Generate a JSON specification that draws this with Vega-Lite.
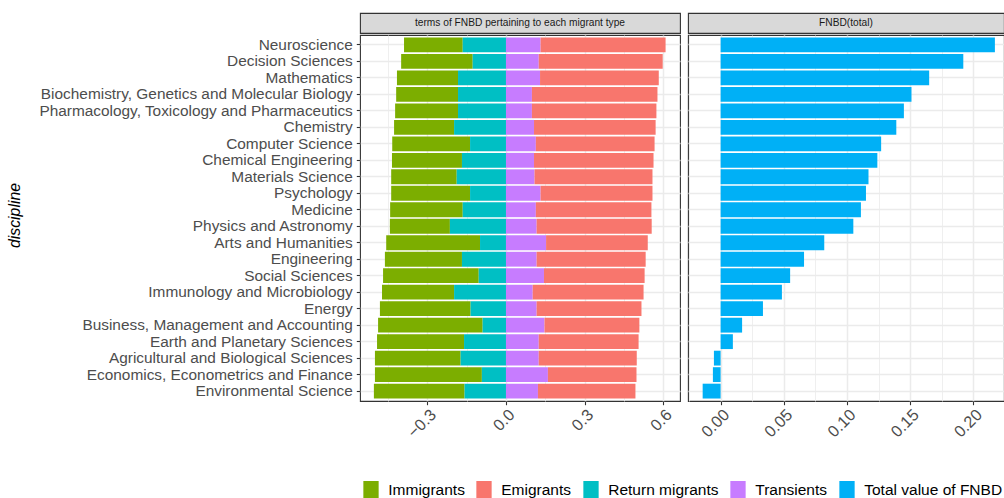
{
  "$schema": "https://vega.github.io/schema/vega-lite/v6.json",
  "padding": {"left": 5, "top": 12, "right": 0, "bottom": 0},
  "autosize": {"type": "pad"},
  "config": {
    "font": "Liberation Sans",
    "view": {"stroke": null},
    "axis": {
      "labelFontSize": 15.4,
      "labelColor": "#4D4D4D",
      "tickColor": "#333333",
      "tickSize": 3.7,
      "tickWidth": 1.1,
      "domain": false,
      "gridColor": "#EBEBEB",
      "gridWidth": 1.5,
      "labelOverlap": false
    },
    "legend": {
      "orient": "none",
      "legendX": 2,
      "legendY": 468,
      "direction": "horizontal",
      "labelFontSize": 15.5,
      "labelColor": "#000000",
      "labelOffset": 8.25,
      "columnPadding": 10,
      "padding": 0,
      "labelLimit": 400
    }
  },
  "datasets": {
    "fnbd": [
      {"discipline": "Neuroscience", "type": "Immigrants", "value": -0.224},
      {"discipline": "Neuroscience", "type": "Return migrants", "value": -0.165},
      {"discipline": "Neuroscience", "type": "Transients", "value": 0.132},
      {"discipline": "Neuroscience", "type": "Emigrants", "value": 0.477},
      {"discipline": "Neuroscience", "type": "Total value of FNBD", "value": 0.217},
      {"discipline": "Decision Sciences", "type": "Immigrants", "value": -0.273},
      {"discipline": "Decision Sciences", "type": "Return migrants", "value": -0.127},
      {"discipline": "Decision Sciences", "type": "Transients", "value": 0.125},
      {"discipline": "Decision Sciences", "type": "Emigrants", "value": 0.473},
      {"discipline": "Decision Sciences", "type": "Total value of FNBD", "value": 0.192},
      {"discipline": "Mathematics", "type": "Immigrants", "value": -0.233},
      {"discipline": "Mathematics", "type": "Return migrants", "value": -0.183},
      {"discipline": "Mathematics", "type": "Transients", "value": 0.130},
      {"discipline": "Mathematics", "type": "Emigrants", "value": 0.453},
      {"discipline": "Mathematics", "type": "Total value of FNBD", "value": 0.165},
      {"discipline": "Biochemistry, Genetics and Molecular Biology", "type": "Immigrants", "value": -0.236},
      {"discipline": "Biochemistry, Genetics and Molecular Biology", "type": "Return migrants", "value": -0.183},
      {"discipline": "Biochemistry, Genetics and Molecular Biology", "type": "Transients", "value": 0.099},
      {"discipline": "Biochemistry, Genetics and Molecular Biology", "type": "Emigrants", "value": 0.479},
      {"discipline": "Biochemistry, Genetics and Molecular Biology", "type": "Total value of FNBD", "value": 0.151},
      {"discipline": "Pharmacology, Toxicology and Pharmaceutics", "type": "Immigrants", "value": -0.240},
      {"discipline": "Pharmacology, Toxicology and Pharmaceutics", "type": "Return migrants", "value": -0.183},
      {"discipline": "Pharmacology, Toxicology and Pharmaceutics", "type": "Transients", "value": 0.099},
      {"discipline": "Pharmacology, Toxicology and Pharmaceutics", "type": "Emigrants", "value": 0.475},
      {"discipline": "Pharmacology, Toxicology and Pharmaceutics", "type": "Total value of FNBD", "value": 0.145},
      {"discipline": "Chemistry", "type": "Immigrants", "value": -0.229},
      {"discipline": "Chemistry", "type": "Return migrants", "value": -0.198},
      {"discipline": "Chemistry", "type": "Transients", "value": 0.107},
      {"discipline": "Chemistry", "type": "Emigrants", "value": 0.464},
      {"discipline": "Chemistry", "type": "Total value of FNBD", "value": 0.139},
      {"discipline": "Computer Science", "type": "Immigrants", "value": -0.297},
      {"discipline": "Computer Science", "type": "Return migrants", "value": -0.137},
      {"discipline": "Computer Science", "type": "Transients", "value": 0.114},
      {"discipline": "Computer Science", "type": "Emigrants", "value": 0.453},
      {"discipline": "Computer Science", "type": "Total value of FNBD", "value": 0.127},
      {"discipline": "Chemical Engineering", "type": "Immigrants", "value": -0.267},
      {"discipline": "Chemical Engineering", "type": "Return migrants", "value": -0.168},
      {"discipline": "Chemical Engineering", "type": "Transients", "value": 0.107},
      {"discipline": "Chemical Engineering", "type": "Emigrants", "value": 0.456},
      {"discipline": "Chemical Engineering", "type": "Total value of FNBD", "value": 0.124},
      {"discipline": "Materials Science", "type": "Immigrants", "value": -0.250},
      {"discipline": "Materials Science", "type": "Return migrants", "value": -0.188},
      {"discipline": "Materials Science", "type": "Transients", "value": 0.109},
      {"discipline": "Materials Science", "type": "Emigrants", "value": 0.450},
      {"discipline": "Materials Science", "type": "Total value of FNBD", "value": 0.117},
      {"discipline": "Psychology", "type": "Immigrants", "value": -0.301},
      {"discipline": "Psychology", "type": "Return migrants", "value": -0.137},
      {"discipline": "Psychology", "type": "Transients", "value": 0.132},
      {"discipline": "Psychology", "type": "Emigrants", "value": 0.427},
      {"discipline": "Psychology", "type": "Total value of FNBD", "value": 0.115},
      {"discipline": "Medicine", "type": "Immigrants", "value": -0.277},
      {"discipline": "Medicine", "type": "Return migrants", "value": -0.165},
      {"discipline": "Medicine", "type": "Transients", "value": 0.114},
      {"discipline": "Medicine", "type": "Emigrants", "value": 0.441},
      {"discipline": "Medicine", "type": "Total value of FNBD", "value": 0.111},
      {"discipline": "Physics and Astronomy", "type": "Immigrants", "value": -0.229},
      {"discipline": "Physics and Astronomy", "type": "Return migrants", "value": -0.214},
      {"discipline": "Physics and Astronomy", "type": "Transients", "value": 0.117},
      {"discipline": "Physics and Astronomy", "type": "Emigrants", "value": 0.439},
      {"discipline": "Physics and Astronomy", "type": "Total value of FNBD", "value": 0.105},
      {"discipline": "Arts and Humanities", "type": "Immigrants", "value": -0.358},
      {"discipline": "Arts and Humanities", "type": "Return migrants", "value": -0.099},
      {"discipline": "Arts and Humanities", "type": "Transients", "value": 0.153},
      {"discipline": "Arts and Humanities", "type": "Emigrants", "value": 0.388},
      {"discipline": "Arts and Humanities", "type": "Total value of FNBD", "value": 0.082},
      {"discipline": "Engineering", "type": "Immigrants", "value": -0.294},
      {"discipline": "Engineering", "type": "Return migrants", "value": -0.168},
      {"discipline": "Engineering", "type": "Transients", "value": 0.117},
      {"discipline": "Engineering", "type": "Emigrants", "value": 0.416},
      {"discipline": "Engineering", "type": "Total value of FNBD", "value": 0.066},
      {"discipline": "Social Sciences", "type": "Immigrants", "value": -0.365},
      {"discipline": "Social Sciences", "type": "Return migrants", "value": -0.104},
      {"discipline": "Social Sciences", "type": "Transients", "value": 0.145},
      {"discipline": "Social Sciences", "type": "Emigrants", "value": 0.384},
      {"discipline": "Social Sciences", "type": "Total value of FNBD", "value": 0.055},
      {"discipline": "Immunology and Microbiology", "type": "Immigrants", "value": -0.275},
      {"discipline": "Immunology and Microbiology", "type": "Return migrants", "value": -0.198},
      {"discipline": "Immunology and Microbiology", "type": "Transients", "value": 0.102},
      {"discipline": "Immunology and Microbiology", "type": "Emigrants", "value": 0.423},
      {"discipline": "Immunology and Microbiology", "type": "Total value of FNBD", "value": 0.0485},
      {"discipline": "Energy", "type": "Immigrants", "value": -0.346},
      {"discipline": "Energy", "type": "Return migrants", "value": -0.135},
      {"discipline": "Energy", "type": "Transients", "value": 0.117},
      {"discipline": "Energy", "type": "Emigrants", "value": 0.400},
      {"discipline": "Energy", "type": "Total value of FNBD", "value": 0.0335},
      {"discipline": "Business, Management and Accounting", "type": "Immigrants", "value": -0.399},
      {"discipline": "Business, Management and Accounting", "type": "Return migrants", "value": -0.089},
      {"discipline": "Business, Management and Accounting", "type": "Transients", "value": 0.147},
      {"discipline": "Business, Management and Accounting", "type": "Emigrants", "value": 0.362},
      {"discipline": "Business, Management and Accounting", "type": "Total value of FNBD", "value": 0.017},
      {"discipline": "Earth and Planetary Sciences", "type": "Immigrants", "value": -0.332},
      {"discipline": "Earth and Planetary Sciences", "type": "Return migrants", "value": -0.160},
      {"discipline": "Earth and Planetary Sciences", "type": "Transients", "value": 0.125},
      {"discipline": "Earth and Planetary Sciences", "type": "Emigrants", "value": 0.381},
      {"discipline": "Earth and Planetary Sciences", "type": "Total value of FNBD", "value": 0.0097},
      {"discipline": "Agricultural and Biological Sciences", "type": "Immigrants", "value": -0.327},
      {"discipline": "Agricultural and Biological Sciences", "type": "Return migrants", "value": -0.173},
      {"discipline": "Agricultural and Biological Sciences", "type": "Transients", "value": 0.125},
      {"discipline": "Agricultural and Biological Sciences", "type": "Emigrants", "value": 0.374},
      {"discipline": "Agricultural and Biological Sciences", "type": "Total value of FNBD", "value": -0.0053},
      {"discipline": "Economics, Econometrics and Finance", "type": "Immigrants", "value": -0.408},
      {"discipline": "Economics, Econometrics and Finance", "type": "Return migrants", "value": -0.092},
      {"discipline": "Economics, Econometrics and Finance", "type": "Transients", "value": 0.160},
      {"discipline": "Economics, Econometrics and Finance", "type": "Emigrants", "value": 0.338},
      {"discipline": "Economics, Econometrics and Finance", "type": "Total value of FNBD", "value": -0.0061},
      {"discipline": "Environmental Science", "type": "Immigrants", "value": -0.346},
      {"discipline": "Environmental Science", "type": "Return migrants", "value": -0.158},
      {"discipline": "Environmental Science", "type": "Transients", "value": 0.122},
      {"discipline": "Environmental Science", "type": "Emigrants", "value": 0.372},
      {"discipline": "Environmental Science", "type": "Total value of FNBD", "value": -0.0142}
    ]
  },
  "spacing": 6,
  "hconcat": [
    {
      "spacing": 0,
      "vconcat": [
        {
          "width": 320,
          "height": 20,
          "view": {"fill": "#D9D9D9", "stroke": "#333333", "strokeWidth": 1.1},
          "data": {"values": [{"label": "terms of FNBD pertaining to each migrant type"}]},
          "mark": {"type": "text", "fontSize": 10.2, "color": "#1A1A1A"},
          "encoding": {"text": {"field": "label", "type": "nominal"}}
        },
        {
          "width": 320,
          "height": 366,
          "view": {"stroke": "#333333", "strokeWidth": 1.1},
          "data": {"name": "fnbd"},
          "transform": [{"filter": "datum.type !== 'Total value of FNBD'"}],
          "resolve": {"axis": {"x": "independent"}},
          "encoding": {
            "y": {
              "field": "discipline",
              "type": "nominal",
              "sort": ["Neuroscience", "Decision Sciences", "Mathematics", "Biochemistry, Genetics and Molecular Biology", "Pharmacology, Toxicology and Pharmaceutics", "Chemistry", "Computer Science", "Chemical Engineering", "Materials Science", "Psychology", "Medicine", "Physics and Astronomy", "Arts and Humanities", "Engineering", "Social Sciences", "Immunology and Microbiology", "Energy", "Business, Management and Accounting", "Earth and Planetary Sciences", "Agricultural and Biological Sciences", "Economics, Econometrics and Finance", "Environmental Science"],
              "scale": {"paddingInner": 0.1, "paddingOuter": 0.15},
              "axis": {
                "title": "discipline",
                "titleFontStyle": "italic",
                "titleFontWeight": "normal",
                "titleFontSize": 15.8,
                "titleColor": "#000000",
                "titleX": -341,
                "titleY": 180,
                "titleAngle": -90,
                "titleAlign": "center",
                "titleBaseline": "alphabetic",
                "labelPadding": 4,
                "labelLimit": 500,
                "grid": true,
                "bandPosition": 0.5
              }
            }
          },
          "layer": [
            {
              "mark": {"type": "point", "opacity": 0},
              "encoding": {
                "x": {
                  "field": "value",
                  "type": "quantitative",
                  "scale": {"domain": [-0.557, 0.664], "nice": false, "zero": false},
                  "axis": {"orient": "top", "values": [-0.45, -0.15, 0.15, 0.45], "grid": true, "gridWidth": 0.8, "labels": false, "ticks": false, "domain": false, "title": null}
                }
              }
            },
            {
              "mark": {"type": "bar"},
              "encoding": {
                "x": {
                  "field": "value",
                  "type": "quantitative",
                  "axis": {"orient": "bottom", "values": [-0.3, 0, 0.3, 0.6], "format": ".1f", "grid": true, "title": null, "labelFontSize": 16.3, "labelAngle": -45, "labelAlign": "right", "labelBaseline": "top", "labelPadding": 1.5}
                },
                "color": {
                  "field": "type",
                  "type": "nominal",
                  "scale": {"domain": ["Immigrants", "Emigrants", "Return migrants", "Transients", "Total value of FNBD"], "range": ["#7CAE00", "#F8766D", "#00BFC4", "#C77CFF", "#00B0F6"]},
                  "legend": {"title": null, "symbolType": "M-0.85,-1H0.85V1H-0.85Z", "symbolSize": 324, "symbolStrokeWidth": 0}
                },
                "order": {"field": "type", "sort": "descending"}
              }
            }
          ]
        }
      ]
    },
    {
      "spacing": 0,
      "vconcat": [
        {
          "width": 316,
          "height": 20,
          "view": {"fill": "#D9D9D9", "stroke": "#333333", "strokeWidth": 1.1},
          "data": {"values": [{"label": "FNBD(total)"}]},
          "mark": {"type": "text", "fontSize": 10.2, "color": "#1A1A1A"},
          "encoding": {"text": {"field": "label", "type": "nominal"}}
        },
        {
          "width": 316,
          "height": 366,
          "view": {"stroke": "#333333", "strokeWidth": 1.1},
          "data": {"name": "fnbd"},
          "transform": [{"filter": "datum.type === 'Total value of FNBD'"}],
          "resolve": {"axis": {"x": "independent"}},
          "encoding": {
            "y": {
              "field": "discipline",
              "type": "nominal",
              "sort": ["Neuroscience", "Decision Sciences", "Mathematics", "Biochemistry, Genetics and Molecular Biology", "Pharmacology, Toxicology and Pharmaceutics", "Chemistry", "Computer Science", "Chemical Engineering", "Materials Science", "Psychology", "Medicine", "Physics and Astronomy", "Arts and Humanities", "Engineering", "Social Sciences", "Immunology and Microbiology", "Energy", "Business, Management and Accounting", "Earth and Planetary Sciences", "Agricultural and Biological Sciences", "Economics, Econometrics and Finance", "Environmental Science"],
              "scale": {"paddingInner": 0.1, "paddingOuter": 0.15},
              "axis": {"title": null, "labels": false, "ticks": false, "grid": true, "bandPosition": 0.5}
            }
          },
          "layer": [
            {
              "mark": {"type": "point", "opacity": 0},
              "encoding": {
                "x": {
                  "field": "value",
                  "type": "quantitative",
                  "scale": {"domain": [-0.0258, 0.2242], "nice": false, "zero": false},
                  "axis": {"orient": "top", "values": [-0.025, 0.025, 0.075, 0.125, 0.175], "grid": true, "gridWidth": 0.8, "labels": false, "ticks": false, "domain": false, "title": null}
                }
              }
            },
            {
              "mark": {"type": "bar"},
              "encoding": {
                "x": {
                  "field": "value",
                  "type": "quantitative",
                  "axis": {"orient": "bottom", "values": [0, 0.05, 0.1, 0.15, 0.2], "format": ".2f", "grid": true, "title": null, "labelFontSize": 16.3, "labelAngle": -45, "labelAlign": "right", "labelBaseline": "top", "labelPadding": 1.5}
                },
                "color": {
                  "field": "type",
                  "type": "nominal",
                  "scale": {"domain": ["Immigrants", "Emigrants", "Return migrants", "Transients", "Total value of FNBD"], "range": ["#7CAE00", "#F8766D", "#00BFC4", "#C77CFF", "#00B0F6"]},
                  "legend": {"title": null, "symbolType": "M-0.85,-1H0.85V1H-0.85Z", "symbolSize": 324, "symbolStrokeWidth": 0}
                }
              }
            }
          ]
        }
      ]
    }
  ]
}
